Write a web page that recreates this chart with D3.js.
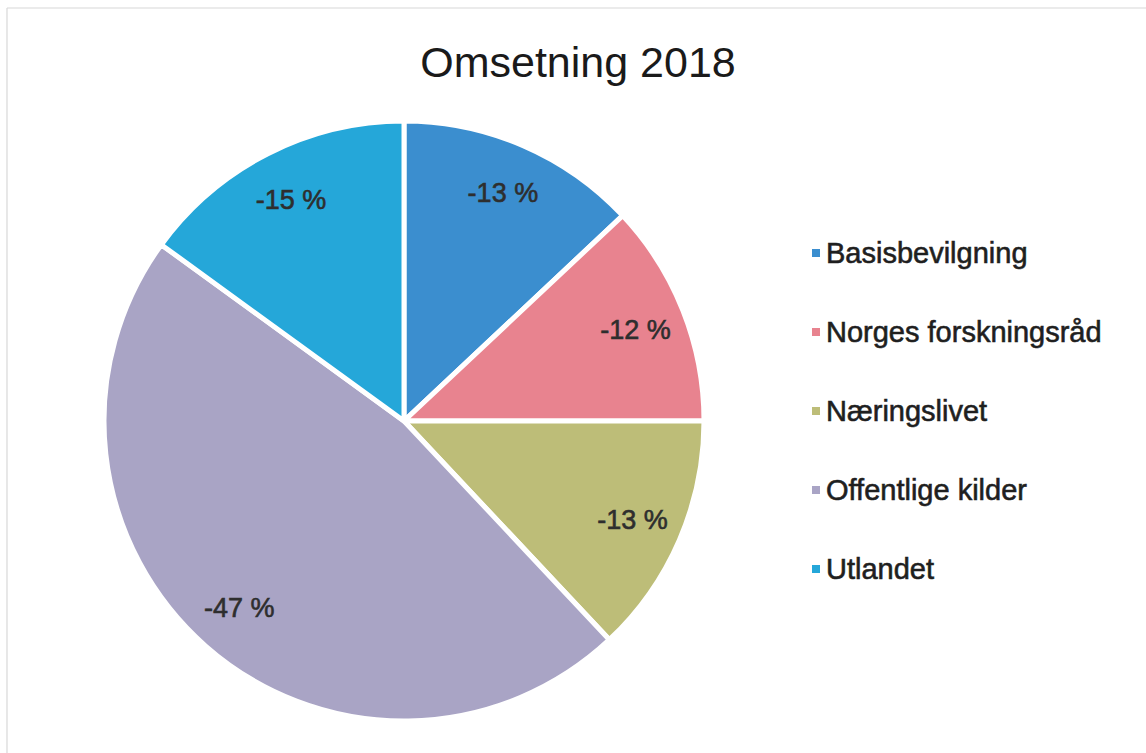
<!DOCTYPE html>
<html>
<head>
<meta charset="utf-8">
<script src="https://cdn.jsdelivr.net/npm/d3@7"></script>
<style>
  body { margin: 0; background: #fff; }
  text { font-family: "Liberation Sans", Arial, sans-serif; }
</style>
</head>
<body>
<div id="chart"></div>
<script>
// data
var categories = ["Basisbevilgning", "Norges forskningsråd", "Næringslivet", "Offentlige kilder", "Utlandet"];
var shares = [13, 12, 13, 47, 15];
var labels = ["-13 %", "-12 %", "-13 %", "-47 %", "-15 %"];
var colors = ["#3b8ecf", "#e8838f", "#bdbd78", "#a9a4c5", "#25a7d9"];

var width = 1146, height = 753;

var svg = d3.select("#chart")
    .append("svg")
    .attr("width", width)
    .attr("height", height);

// faint scan border
svg.append("line")
    .attr("x1", 7).attr("y1", 8).attr("x2", width).attr("y2", 8)
    .style("stroke", "#d8d8d8").style("stroke-width", 1.2);
svg.append("line")
    .attr("x1", 7).attr("y1", 8).attr("x2", 7).attr("y2", height)
    .style("stroke", "#d8d8d8").style("stroke-width", 1.2);

// title
svg.append("text")
    .attr("x", 578)
    .attr("y", 77)
    .attr("text-anchor", "middle")
    .style("font-size", "43px")
    .style("fill", "#1a1a1a")
    .text("Omsetning 2018");

// pie
var radius = 300;
var g = svg.append("g")
    .attr("transform", "translate(404, 421)");

var data = categories.map((c, i) => ({name: c, value: shares[i], label: labels[i], color: colors[i]}));

var pie = d3.pie()
    .value(d => d.value)
    .sort(null);

var arc = d3.arc()
    .innerRadius(0)
    .outerRadius(radius);

var labelArc = d3.arc()
    .innerRadius(radius * 0.83)
    .outerRadius(radius * 0.83);

var slices = g.selectAll("g.slice")
    .data(pie(data))
    .enter()
    .append("g");

slices.append("path")
    .attr("d", arc)
    .style("fill", d => d.data.color)
    .style("stroke", "#fff")
    .style("stroke-width", 5);

slices.append("text")
    .attr("transform", d => `translate(${labelArc.centroid(d)})`)
    .attr("text-anchor", "middle")
    .attr("dy", "0.35em")
    .style("font-size", "27px")
    .style("fill", "#2e2e2e")
    .style("stroke", "#2e2e2e")
    .style("stroke-width", 0.6)
    .text(d => d.data.label);

// legend
var legend = svg.selectAll("g.legend")
    .data(data)
    .enter()
    .append("g")
    .attr("transform", (d, i) => `translate(812, ${253 + i * 79})`);

legend.append("rect")
    .attr("x", 0)
    .attr("y", -4)
    .attr("width", 8)
    .attr("height", 8)
    .style("fill", d => d.color);

legend.append("text")
    .attr("x", 14)
    .attr("dy", "0.35em")
    .style("font-size", "29px")
    .style("fill", "#1f1f1f")
    .style("stroke", "#1f1f1f")
    .style("stroke-width", 0.6)
    .text(d => d.name);
</script>
</body>
</html>
